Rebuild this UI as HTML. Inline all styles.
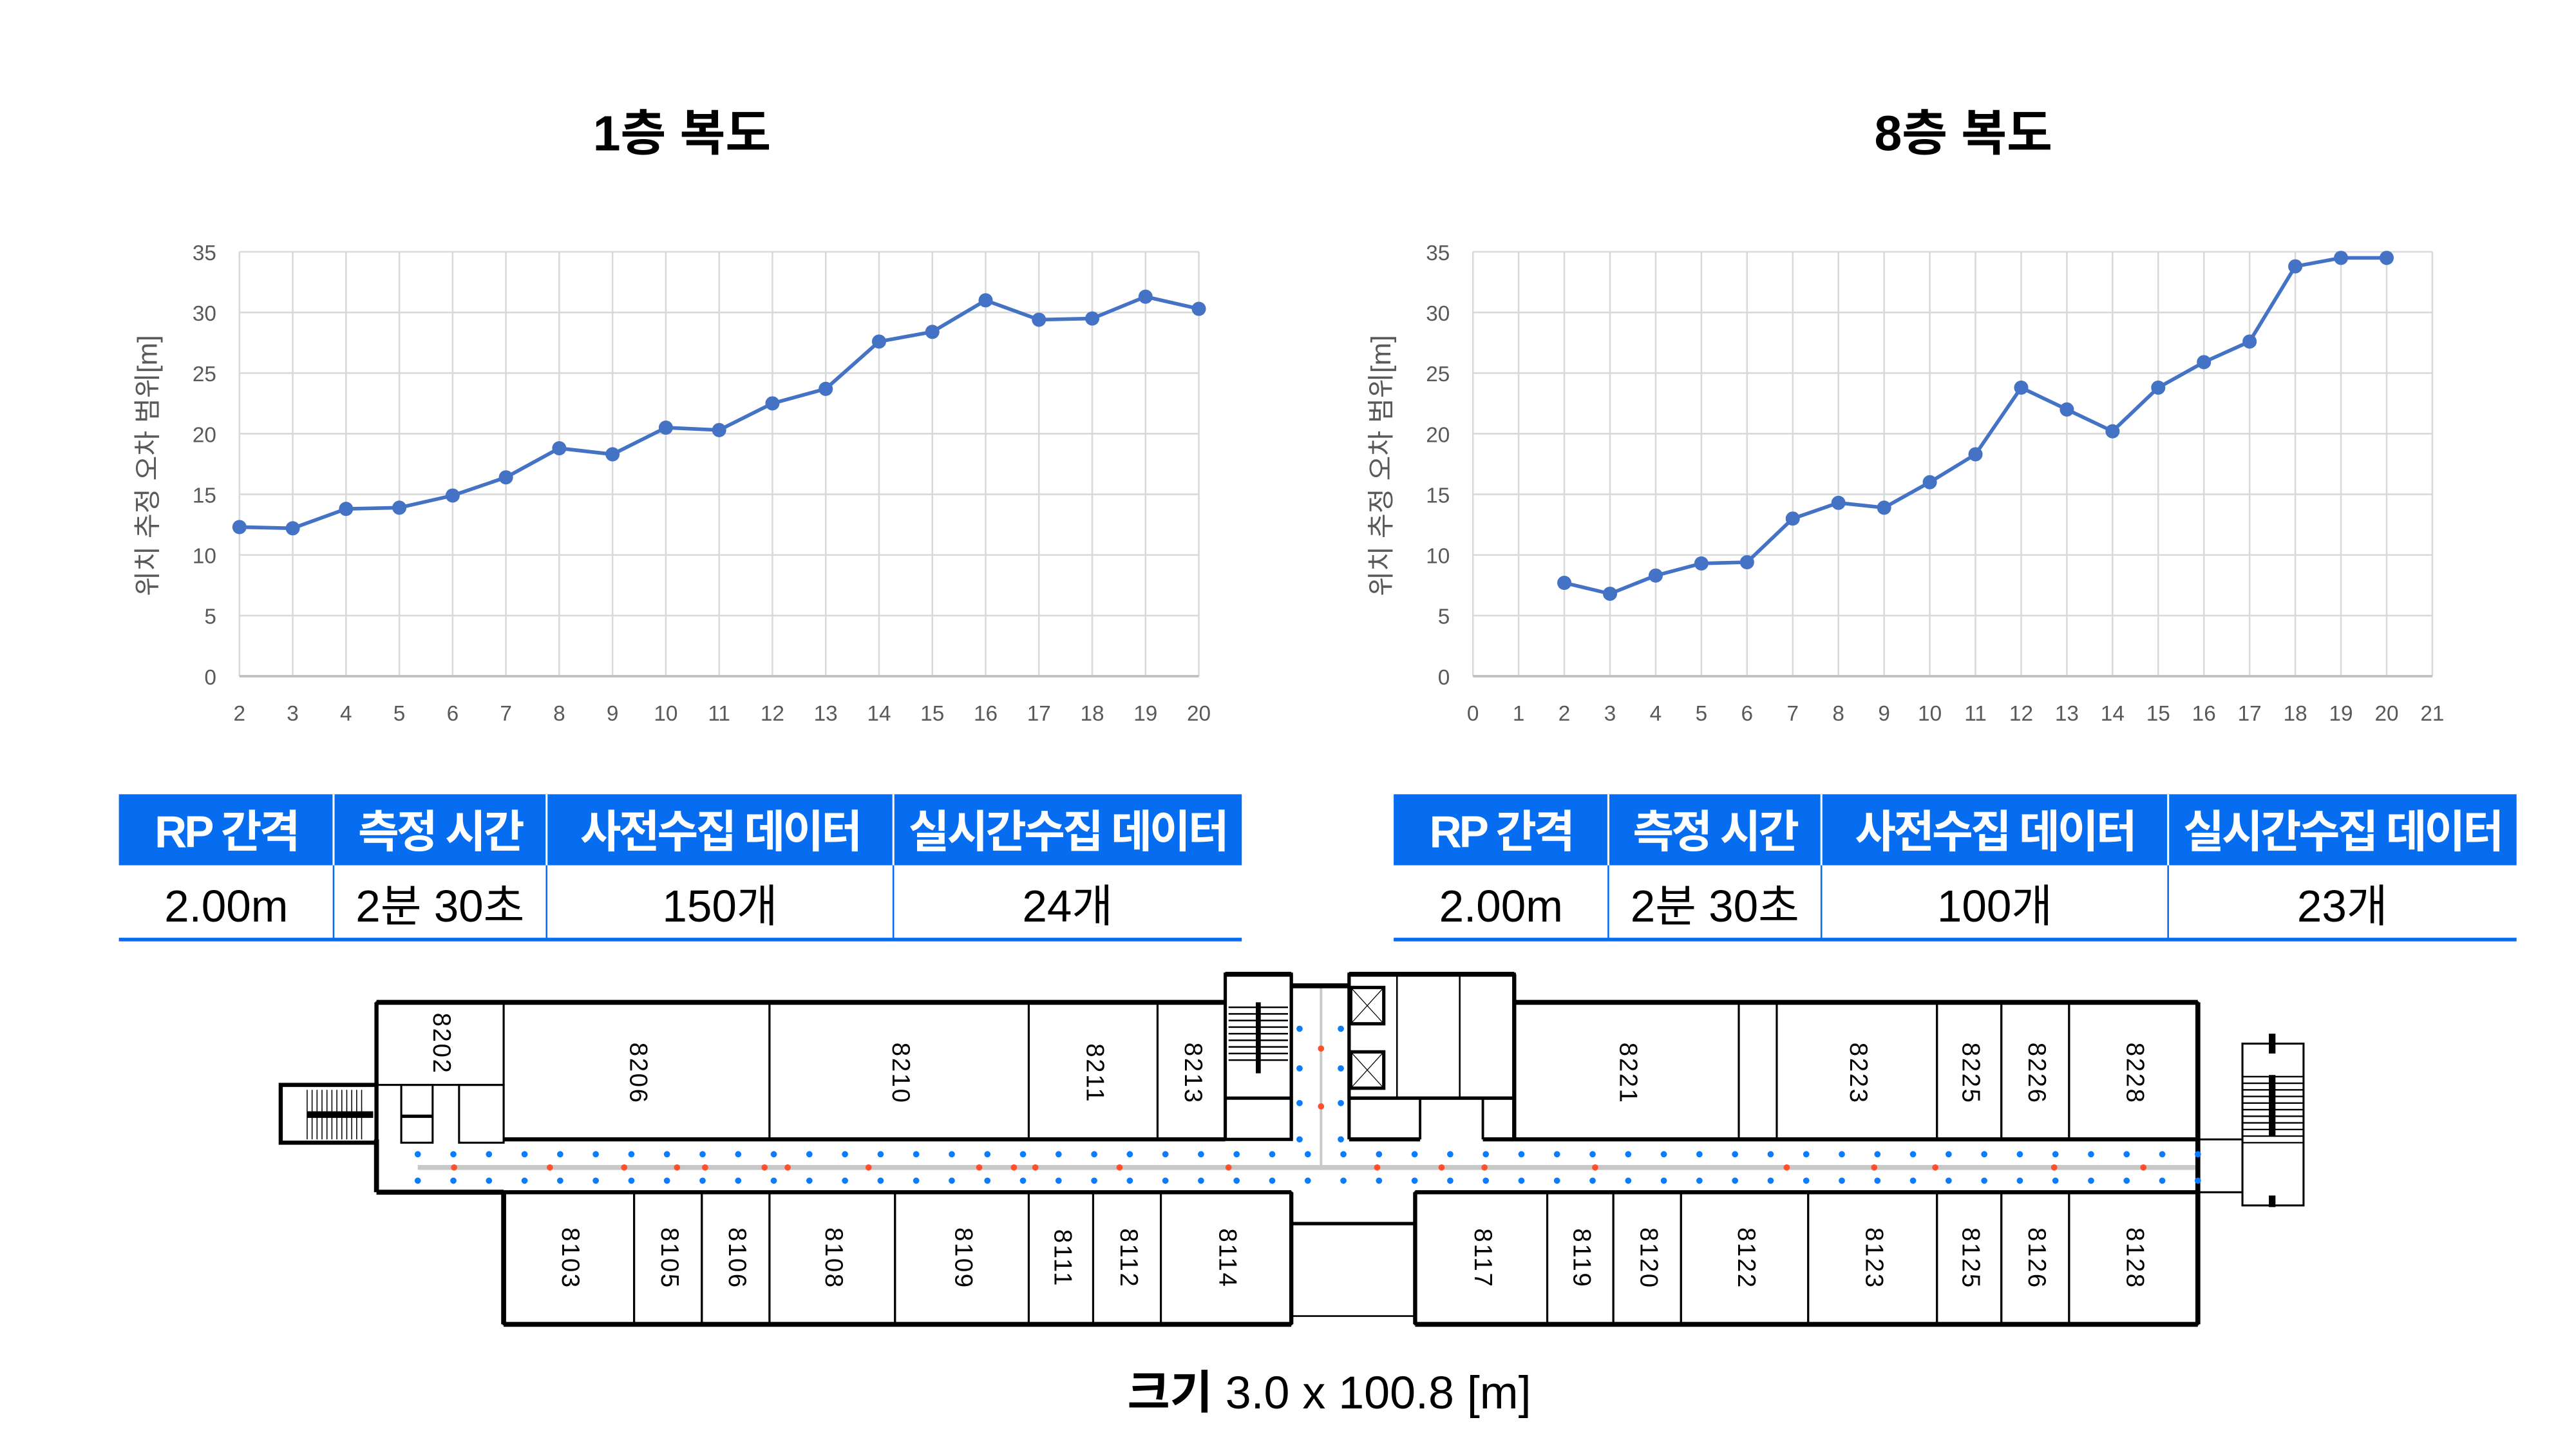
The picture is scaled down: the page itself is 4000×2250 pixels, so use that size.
<!DOCTYPE html>
<html><head><meta charset="utf-8"><style>
html,body{margin:0;padding:0;background:#fff;}
svg{display:block;}
text{font-family:"Liberation Sans","Noto Sans CJK KR",sans-serif;}
</style></head><body>
<svg id="root" width="4000" height="2250" viewBox="0 0 1560 877.5" xmlns="http://www.w3.org/2000/svg">
<rect width="1560" height="877.5" fill="#fff"/>
<text x="413" y="91" font-size="30" font-weight="bold" text-anchor="middle">1층 복도</text>
<text x="1189" y="91" font-size="30" font-weight="bold" text-anchor="middle">8층 복도</text>
<g id="chart1"></g>
<g id="chart2"></g>
<g id="tables"></g>
<g id="plan"></g>
<text x="805" y="853" font-size="28" text-anchor="middle"><tspan font-weight="bold">크기</tspan> 3.0 x 100.8 [m]</text>
</svg>
<script>
const NS="http://www.w3.org/2000/svg";
// chart data
const xCats1=[2,3,4,5,6,7,8,9,10,11,12,13,14,15,16,17,18,19,20];
const yVals1=[12.3,12.2,13.8,13.9,14.9,16.4,18.8,18.3,20.5,20.3,22.5,23.7,27.6,28.4,31.0,29.4,29.5,31.3,30.3];
const xCats2=[2,3,4,5,6,7,8,9,10,11,12,13,14,15,16,17,18,19,20];
const yVals2=[7.7,6.8,8.3,9.3,9.4,13.0,14.3,13.9,16.0,18.3,23.8,22.0,20.2,23.8,25.9,27.6,33.8,34.5,34.5];
const xTicks1=[2,3,4,5,6,7,8,9,10,11,12,13,14,15,16,17,18,19,20];
const xTicks2=[0,1,2,3,4,5,6,7,8,9,10,11,12,13,14,15,16,17,18,19,20,21];
const yTicks=[0,5,10,15,20,25,30,35];
// table data
const tableHeaders=["RP 간격","측정 시간","사전수집 데이터","실시간수집 데이터"];
const tableRow1=["2.00m","2분 30초","150개","24개"];
const tableRow2=["2.00m","2분 30초","100개","23개"];

function el(tag,attrs,parent,txt){const e=document.createElementNS(NS,tag);for(const k in attrs)e.setAttribute(k,attrs[k]);if(txt!==undefined)e.textContent=txt;parent.appendChild(e);return e;}

function drawChart(g,xs,ys,ticks,x0,x1,xmin,xmax,name){
  const y0=409.5,y1=152.5;
  const sx=v=>x0+(v-xmin)/(xmax-xmin)*(x1-x0);
  const sy=v=>y0-(v/35)*(y0-y1);
  ticks.forEach(t=>{
    const l=el('line',{x1:sx(t),x2:sx(t),y1:y1,y2:y0,stroke:'#d9d9d9','stroke-width':1},g);
    
    
    const tx=el('text',{x:sx(t),y:y0+27,'font-size':13,'text-anchor':'middle',fill:'#595959'},g,String(t));
    
    
  });
  yTicks.forEach(t=>{
    const l=el('line',{x1:x0,x2:x1,y1:sy(t),y2:sy(t),stroke:t===0?'#bfbfbf':'#d9d9d9','stroke-width':t===0?1.5:1},g);
    
    
    const tx=el('text',{x:x0-14,y:sy(t)+5,'font-size':13,'text-anchor':'end',fill:'#595959'},g,String(t));
    
    
  });
  const at=el('text',{x:0,y:0,'font-size':16.5,'text-anchor':'middle',fill:'#595959',transform:`translate(${x0-50},282) rotate(-90)`},g,'위치 추정 오차 범위[m]');
  
  
  const pts=xs.map((x,i)=>sx(x)+','+sy(ys[i])).join(' ');
  const pl=el('polyline',{points:pts,fill:'none',stroke:'#4472c4','stroke-width':2.2},g);
  
  
  xs.forEach((x,i)=>{
    const c=el('circle',{cx:sx(x),cy:sy(ys[i]),r:4.3,fill:'#4472c4'},g);
    
    
  });
}
drawChart(document.getElementById('chart1'),xCats1,yVals1,xTicks1,145,726,2,20,'floor1');
drawChart(document.getElementById('chart2'),xCats2,yVals2,xTicks2,892,1473,0,21,'floor8');

// tables
const tg=document.getElementById('tables');
[[0,tableRow1],[772,tableRow2]].forEach(([off,row])=>{
  const cols=[72,202,331,541,752].map(v=>v+off);
  const h=el('rect',{x:cols[0],y:481,width:cols[4]-cols[0],height:43,fill:'#066cf0'},tg);
  
  
  for(let i=0;i<4;i++){
    const cx=(cols[i]+cols[i+1])/2;
    const t=el('text',{x:cx,y:513,'font-size':27,'font-weight':'bold',fill:'#fff','text-anchor':'middle','letter-spacing':-1.5},tg,tableHeaders[i]);
    
    
    const v=el('text',{x:cx,y:558,'font-size':27,fill:'#000','text-anchor':'middle'},tg,row[i]);
    
    
    if(i>0){
      el('line',{x1:cols[i],x2:cols[i],y1:481,y2:524,stroke:'#fff','stroke-width':1.2},tg);
      el('line',{x1:cols[i],x2:cols[i],y1:524,y2:568,stroke:'#066cf0','stroke-width':1},tg);
    }
  }
  el('line',{x1:cols[0],x2:cols[4],y1:569,y2:569,stroke:'#066cf0','stroke-width':2.2},tg);
});

// floor plan
const pg=document.getElementById('plan');
function R(x,y,w,h,sw,name){const r=el('rect',{x:x,y:y,width:w,height:h,fill:'none',stroke:'#000','stroke-width':sw||1.5},pg);return r;}
function L(x1,y1,x2,y2,sw,c){return el('line',{x1:x1,y1:y1,x2:x2,y2:y2,stroke:c||'#000','stroke-width':sw||1.5},pg);}
function label(txt,cx,cy,name){const t=el('text',{x:0,y:0,'font-size':15,'text-anchor':'middle','letter-spacing':1,transform:`translate(${cx},${cy}) rotate(90)`,'dominant-baseline':'middle'},pg,txt);}
L(253,707,1331,707,3,'#c8c8c8');
L(800,598,800,707,1.5,'#c8c8c8');
const topL=[[228,305,'8202'],[305,466,'8206'],[466,623,'8210'],[623,701,'8211'],[701,742,'8213']];
topL.forEach(([a,b,n])=>{R(a,607,b-a,n==='8202'?50:83,1.2,'room-'+n);label(n,(a+b)/2,n==='8202'?632:650,'room-label-'+n);});
L(228,607,742,607,3);L(305,690,742,690,2.5);
R(170,657,58,35,2.5,'left-stair');
for(let i=0;i<12;i++)L(186+i*3,660,186+i*3,690,0.6);
L(186,675,226,675,4);
R(243,657,19,35,1.2,'small-room');R(278,657,27,35,1.2,'small-room');
L(243,676,262,676,2);
L(228,607,228,657,2.5);L(228,690,228,722,3);L(228,722,305,722,3);
R(742,590,40,100,2,'stair-block');L(742,590,782,590,3);
for(let i=0;i<9;i++)L(744,610+i*4,780,610+i*4,1);
L(762,607,762,650,3);L(742,665,782,665,2);
L(782,597,817,597,3);L(782,590,782,690,2);L(817,590,817,690,2);
R(817,590,100,75,2,'elevator-block');L(817,590,917,590,3);
L(846,590,846,665,1);L(884,590,884,665,1);
[[818,598],[818,637]].forEach(([x,y])=>{R(x,y,20,22,2,'elevator');L(x,y,x+20,y+22,0.5);L(x+20,y,x,y+22,0.5);});
L(817,665,917,665,2);L(860,665,860,690,1.5);L(898,665,898,690,1.5);L(817,690,860,690,2.5);L(898,690,917,690,2.5);
const topR=[[917,1053,'8221'],[1053,1076,''],[1076,1173,'8223'],[1173,1212,'8225'],[1212,1253,'8226'],[1253,1331,'8228']];
topR.forEach(([a,b,n])=>{R(a,607,b-a,83,1.2,'room-'+(n||'closet'));if(n)label(n,(a+b)/2,650,'room-label-'+n);});
L(917,607,1331,607,3);L(917,690,1331,690,2.5);L(1331,607,1331,802,3);L(917,590,917,690,2.5);
const bot=[[305,384,'8103'],[384,425,'8105'],[425,466,'8106'],[466,542,'8108'],[542,623,'8109'],[623,662,'8111'],[662,703,'8112'],[703,782,'8114'],[857,937,'8117'],[937,977,'8119'],[977,1018,'8120'],[1018,1095,'8122'],[1095,1173,'8123'],[1173,1212,'8125'],[1212,1253,'8126'],[1253,1331,'8128']];
bot.forEach(([a,b,n])=>{R(a,722,b-a,80,1.2,'room-'+n);label(n,(a+b)/2,762,'room-label-'+n);});
L(305,722,782,722,2.5);L(857,722,1331,722,2.5);L(305,802,782,802,3);L(857,802,1331,802,3);
L(305,722,305,802,3);L(782,722,782,802,2.5);L(857,722,857,802,2.5);
L(782,741,857,741,2);L(782,797,857,797,1);
R(1358,632,37,98,1.2,'right-stair');
for(let i=0;i<11;i++)L(1358,652+i*4,1395,652+i*4,0.9);
L(1376,626,1376,638,4);L(1376,651,1376,688,4);L(1376,724,1376,731,4);
L(1331,690,1358,690,1.2);L(1331,722,1358,722,1.2);
const blueX=[];for(let x=253;x<=1331;x+=21.56)blueX.push(x);
blueX.forEach(x=>{[699,715].forEach(y=>{const c=el('circle',{cx:x,cy:y,r:1.9,fill:'#0a7cff'},pg);});});
[623,647,668,690].forEach(y=>{[787,812].forEach(x=>{const c=el('circle',{cx:x,cy:y,r:1.9,fill:'#0a7cff'},pg);});});
const redX=[275,333,378,410,427,463,477,526,593,614,627,678,744,834,873,899,966,1082,1135,1172,1244,1298];
redX.forEach(x=>{const c=el('circle',{cx:x,cy:707,r:1.9,fill:'#ff4f2b'},pg);});
[635,670].forEach(y=>{const c=el('circle',{cx:800,cy:y,r:1.9,fill:'#ff4f2b'},pg);});
</script>
</body></html>
